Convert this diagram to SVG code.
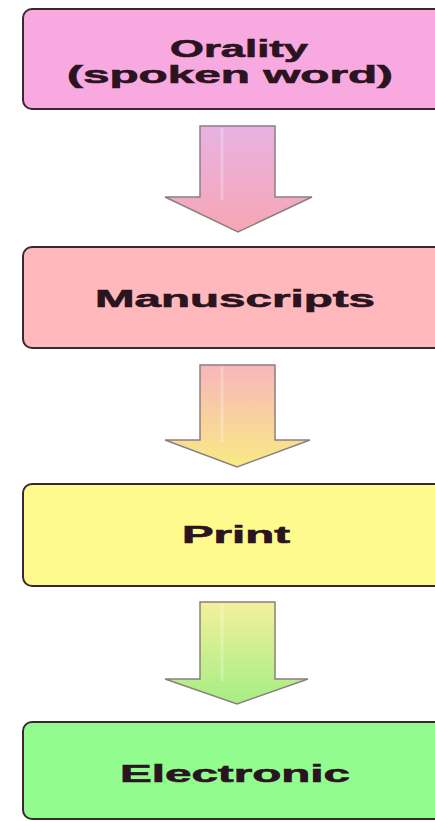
<svg xmlns="http://www.w3.org/2000/svg" width="435" height="821" viewBox="0 0 435 821">
<style>
.box{stroke:#3a2830;stroke-width:2}
.lbl{font-family:"Liberation Sans",Arial,sans-serif;font-weight:bold;font-size:23px;fill:#2a1420;stroke:#2a1420;stroke-width:0.6}
.arr{stroke:#8a8080;stroke-width:1.5;stroke-linejoin:miter}
.hl{stroke:#ffffff;stroke-opacity:0.25;stroke-width:3}
</style>
<defs>
<linearGradient id="g1" x1="0" y1="0" x2="0" y2="1">
<stop offset="0" stop-color="#e8b2e2"/>
<stop offset="1" stop-color="#f7a6b4"/>
</linearGradient>
<linearGradient id="g2" x1="0" y1="0" x2="0" y2="1">
<stop offset="0" stop-color="#f8b6bc"/>
<stop offset="1" stop-color="#f8ea84"/>
</linearGradient>
<linearGradient id="g3" x1="0" y1="0" x2="0" y2="1">
<stop offset="0" stop-color="#f4f09c"/>
<stop offset="1" stop-color="#a4ee84"/>
</linearGradient>
</defs>
<rect width="435" height="821" fill="#ffffff"/>
<g id="connectors">
<path class="arr" fill="url(#g1)" d="M200,126 H275 V197 H312 L238,232 L165,197 H200 Z"/>
<line class="hl" x1="222" y1="128" x2="222" y2="200"/>
<path class="arr" fill="url(#g2)" d="M200,365 H275 V440 H310 L237,467 L165,440 H200 Z"/>
<line class="hl" x1="222" y1="367" x2="222" y2="442"/>
<path class="arr" fill="url(#g3)" d="M200,602 H275 V679 H308 L237,704 L165,679 H200 Z"/>
<line class="hl" x1="222" y1="604" x2="222" y2="681"/>
</g>
<g id="orality">
<rect class="box" x="23" y="9" width="430" height="100" rx="9" ry="9" fill="#f8a9e0"/>
<text class="lbl" x="170" y="57" textLength="138" lengthAdjust="spacingAndGlyphs">Orality</text>
<text class="lbl" x="67" y="83" textLength="326" lengthAdjust="spacingAndGlyphs">(spoken word)</text>
</g>
<g id="manuscripts">
<rect class="box" x="23" y="247" width="430" height="101" rx="9" ry="9" fill="#ffb9bd"/>
<text class="lbl" x="95" y="307" textLength="280" lengthAdjust="spacingAndGlyphs">Manuscripts</text>
</g>
<g id="print">
<rect class="box" x="23" y="484" width="430" height="102" rx="9" ry="9" fill="#fffa8e"/>
<text class="lbl" x="182" y="543" textLength="108" lengthAdjust="spacingAndGlyphs">Print</text>
</g>
<g id="electronic">
<rect class="box" x="23" y="722" width="430" height="97" rx="9" ry="9" fill="#93fc8f"/>
<text class="lbl" x="120" y="782" textLength="230" lengthAdjust="spacingAndGlyphs">Electronic</text>
</g>
</svg>
